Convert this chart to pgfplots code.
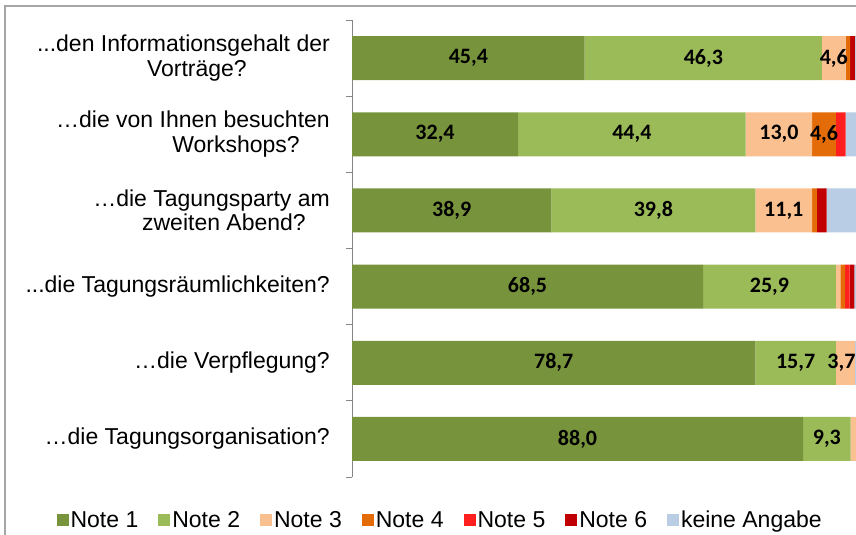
\documentclass[border=0pt]{standalone}
\usepackage{pgfplots}
\pgfplotsset{compat=1.18}
\usepackage{fontspec}
\setmainfont{Liberation Sans}
\newfontfamily\calb{Carlito}
\definecolor{nA}{HTML}{77933C}
\definecolor{nB}{HTML}{9BBB59}
\definecolor{nC}{HTML}{FAC090}
\definecolor{nD}{HTML}{E36C09}
\definecolor{nE}{HTML}{FF1F1F}
\definecolor{nF}{HTML}{C00000}
\definecolor{nG}{HTML}{B9CDE5}
\definecolor{framegray}{HTML}{A6A6A6}
\definecolor{axgray}{HTML}{868686}
\newcommand{\tdots}{.\kern0pt.\kern0pt.}
\pgfplotsset{
  sq/.style={draw=none, fill=#1, legend image code/.code={\fill[#1] (0bp,-6bp) rectangle (12bp,6bp);}},
  geom/.style={at={(352bp,58bp)}, anchor=south west, scale only axis, width=512.5bp, height=457bp,
    xmin=0, xmax=100, ymin=-0.5, ymax=5.5, y dir=reverse},
}
\begin{document}
\begin{tikzpicture}
\useasboundingbox (0bp,0bp) rectangle (856bp,535bp);
\begin{scope}
\clip (0bp,0bp) rectangle (856bp,535bp);
\draw[framegray, line width=1.5bp] (5bp,-5bp) -- (5bp,529bp) -- (870bp,529bp);
\begin{axis}[
  geom,
  xbar stacked, bar width=44bp,
  axis x line=none, axis y line*=left,
  y axis line style={draw=axgray, line width=1bp},
  ytick={0,1,2,3,4,5},
  yticklabels={{\tdots den Informationsgehalt der\\Vorträge?\hspace*{83bp}},
               {…die von Ihnen besuchten\\Workshops?\hspace*{30bp}},
               {…die Tagungsparty am\\zweiten Abend?\hspace*{24bp}},
               {\tdots die Tagungsräumlichkeiten?},
               {…die Verpflegung?},
               {…die Tagungsorganisation?}},
  major tick length=0pt,
  tick style={axgray, line width=1bp},
  yticklabel style={font=\fontsize{23bp}{24.5bp}\selectfont, align=right, text=black, inner sep=0pt, xshift=-22bp},
  extra y ticks={-0.5,0.5,1.5,2.5,3.5,4.5,5.5}, extra y tick labels={},
  extra y tick style={major tick length=6bp, tick align=outside},
  legend columns=7,
  legend style={draw=none, fill=none, at={(0.172,-0.094)}, anchor=center, font=\fontsize{23bp}{24bp}\selectfont, /tikz/every even column/.append style={column sep=18bp}},
]
\addplot[sq=nA] coordinates {(45.4,0) (32.4,1) (38.9,2) (68.5,3) (78.7,4) (88.0,5)};
\addlegendentry{Note 1}
\addplot[sq=nB] coordinates {(46.3,0) (44.4,1) (39.8,2) (25.9,3) (15.7,4) (9.3,5)};
\addlegendentry{Note 2}
\addplot[sq=nC] coordinates {(4.6,0) (13.0,1) (11.1,2) (0.9,3) (3.7,4) (2.8,5)};
\addlegendentry{Note 3}
\addplot[sq=nD] coordinates {(0.9,0) (4.6,1) (0.9,2) (0.9,3) (0,4) (0,5)};
\addlegendentry{Note 4}
\addplot[sq=nE] coordinates {(0,0) (1.9,1) (0,2) (0.9,3) (0,4) (0,5)};
\addlegendentry{Note 5}
\addplot[sq=nF] coordinates {(0.9,0) (0,1) (1.9,2) (0.9,3) (0,4) (0,5)};
\addlegendentry{Note 6}
\addplot[sq=nG] coordinates {(1.9,0) (3.7,1) (7.4,2) (1.9,3) (1.9,4) (0,5)};
\addlegendentry{keine Angabe}
\end{axis}
\begin{axis}[
  geom, hide axis, clip=false,
  point meta=explicit symbolic,
  nodes near coords,
  every node near coord/.append style={font=\calb\bfseries\fontsize{22bp}{24bp}\selectfont, text=black, anchor=center},
]
\addplot[only marks, mark=none] coordinates {
 (22.7,0) [{45,4}] (68.55,0) [{46,3}] (94.0,0) [{4,6}]
 (16.2,1) [{32,4}] (54.6,1) [{44,4}] (83.3,1) [{13,0}] (92.1,1) [{4,6}]
 (19.45,2) [{38,9}] (58.8,2) [{39,8}] (84.25,2) [{11,1}]
 (34.25,3) [{68,5}] (81.45,3) [{25,9}]
 (39.35,4) [{78,7}] (86.55,4) [{15,7}] (95.5,4) [{3,7}]
 (44.0,5) [{88,0}] (92.65,5) [{9,3}]
};
\end{axis}
\end{scope}
\end{tikzpicture}
\end{document}
